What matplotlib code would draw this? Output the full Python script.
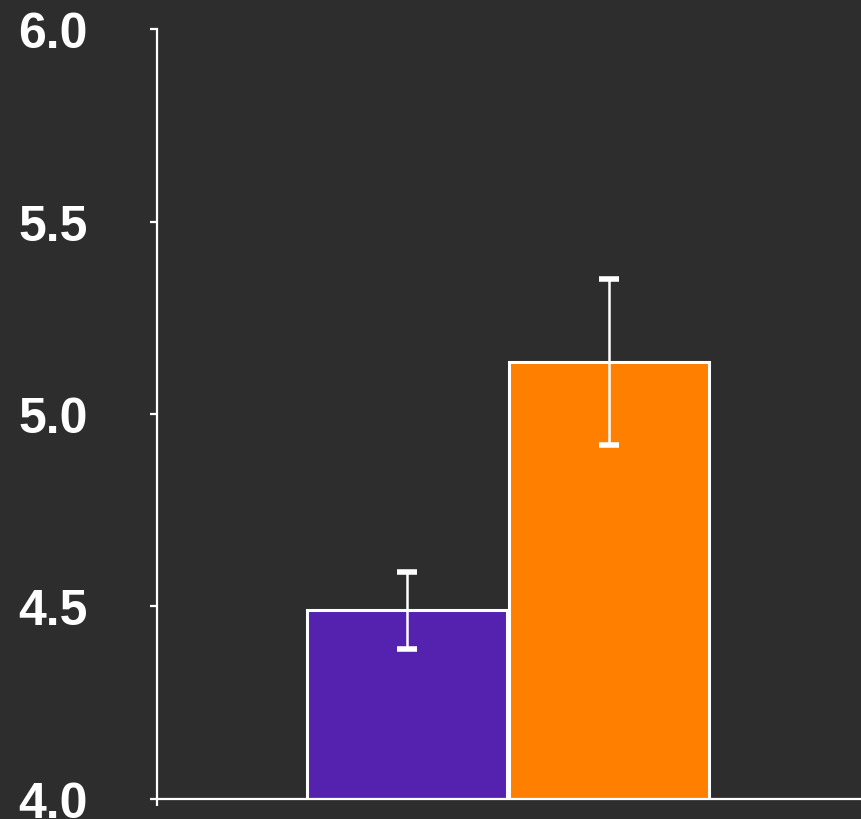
import matplotlib
matplotlib.use("Agg")
import matplotlib.pyplot as plt

# mean scores and standard errors for the two groups
groups = ["A", "B"]
means = [4.49, 5.135]
errors = [0.10, 0.215]
colors = ["#5522b0", "#ff7f00"]
yticks = [4.0, 4.5, 5.0, 5.5, 6.0]

bg = "#2d2d2d"
fig = plt.figure(figsize=(8.61, 8.2), dpi=100, facecolor=bg)
ax = fig.add_axes([0.1823, 0.0244, 0.8177, 0.939])
ax.set_facecolor(bg)

x = range(len(groups))
ax.bar(x, means, width=0.99, color=colors, edgecolor="white", linewidth=2.2,
       yerr=errors, error_kw=dict(ecolor="white", elinewidth=1.8,
                                  capsize=7, capthick=4))

ax.set_xlim(-1.24, 2.25)
ax.set_ylim(4.0, 6.0)
ax.set_yticks(yticks)
ax.set_yticklabels([f"{t:.1f}" for t in yticks])
ax.set_xticks([-1.24])
ax.set_xticklabels([""])

for side in ["top", "right"]:
    ax.spines[side].set_visible(False)
for side in ["left", "bottom"]:
    ax.spines[side].set_color("white")
    ax.spines[side].set_linewidth(1.6)

ax.tick_params(colors="white", width=1.6, length=5)
for lab in ax.get_yticklabels():
    lab.set_fontfamily("Liberation Sans")
    lab.set_fontweight("bold")
    lab.set_fontsize(36)
    lab.set_color("white")
    lab.set_horizontalalignment("left")
ax.tick_params(axis="y", pad=95)

fig.savefig("out.png", facecolor=bg)
